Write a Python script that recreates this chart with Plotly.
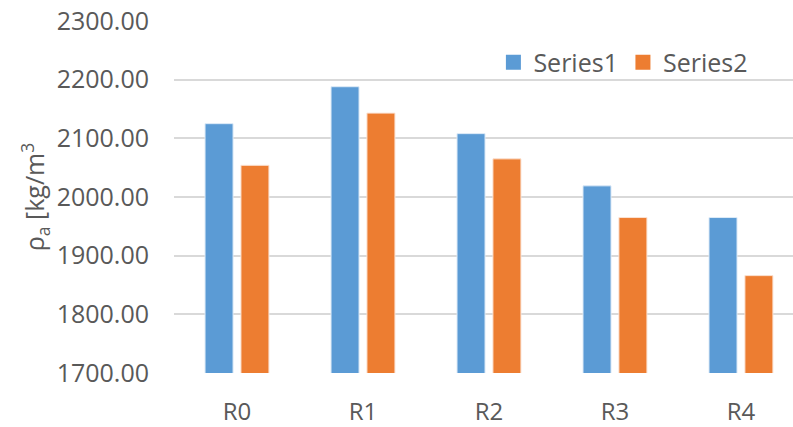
import plotly.graph_objects as go

# Apparent density per mix
categories = ["R0", "R1", "R2", "R3", "R4"]
series1 = [2125, 2188, 2108, 2019, 1965]
series2 = [2054, 2143, 2065, 1965, 1866]
series_names = ["Series1", "Series2"]
y_ticks = [1700, 1800, 1900, 2000, 2100, 2200, 2300]
y_tick_text = [f"{v:.2f}" for v in y_ticks]

BLUE = "#5B9BD5"
ORANGE = "#ED7D31"
GRID = "#D9D9D9"
TEXT = "#595959"
FONT = "Open Sans"

fig = go.Figure()
for name, values, color, edge in [
    (series_names[0], series1, BLUE, "#DCEAF7"),
    (series_names[1], series2, ORANGE, "#FBE2D3"),
]:
    fig.add_trace(go.Bar(
        x=categories, y=values, name=name, showlegend=False,
        marker=dict(color=color, line=dict(color=edge, width=1)),
    ))

# Legend entries with larger square swatches
for name, color in [(series_names[0], BLUE), (series_names[1], ORANGE)]:
    fig.add_trace(go.Scatter(
        x=[None], y=[None], mode="markers", name=name,
        marker=dict(symbol="square", size=15, color=color),
    ))

fig.update_layout(
    width=793, height=427,
    margin=dict(l=174, r=0, t=21, b=51, pad=0),
    paper_bgcolor="white", plot_bgcolor="white",
    barmode="group", bargap=0.43, bargroupgap=0.22,
    font=dict(family=FONT, size=25, color=TEXT),
    showlegend=True,
    legend=dict(
        orientation="h", x=0.516, y=0.882, xanchor="left", yanchor="middle",
        font=dict(family=FONT, size=25, color=TEXT),
        bgcolor="rgba(0,0,0,0)", itemwidth=30, traceorder="normal",
    ),
)

fig.update_xaxes(
    range=[-0.5, 4.413], showgrid=False, zeroline=False,
    showline=False, ticks="", ticklabelstandoff=22,
    tickfont=dict(family=FONT, size=24, color=TEXT),
)
fig.update_yaxes(
    range=[1700, 2300], tickvals=y_ticks, ticktext=y_tick_text,
    showgrid=True, gridcolor=GRID, gridwidth=2,
    zeroline=False, showline=False, ticks="", ticklabelstandoff=24,
    tickfont=dict(family=FONT, size=25, color=TEXT),
    title=dict(text="ρ<sub>a</sub> [kg/m<sup>3</sup>", standoff=4,
               font=dict(family=FONT, size=25, color=TEXT)),
)

fig.write_html("out.html")
